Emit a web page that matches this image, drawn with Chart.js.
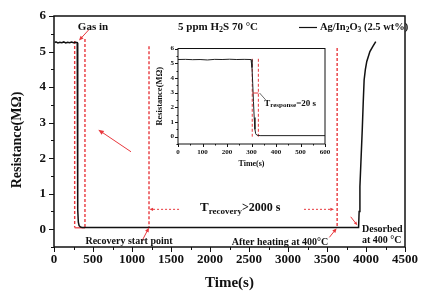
<!DOCTYPE html>
<html>
<head>
<meta charset="utf-8">
<script src="https://cdn.jsdelivr.net/npm/chart.js@4.4.0/dist/chart.umd.min.js"></script>
<style>
  html, body { margin: 0; padding: 0; background: #fff; }
  #wrap { position: relative; width: 426px; height: 297px; }
  #main { position: absolute; left: 0; top: 0; }
  #inset { position: absolute; left: 150px; top: 38px; }
</style>
</head>
<body>
<div id="wrap">
  <canvas id="main" width="426" height="297"></canvas>
  <canvas id="inset" width="185" height="132"></canvas>
</div>
<script>
// main curve: full cycle, gas in -> long recovery -> desorbed by heating
const timeMain = [10, 25, 50, 75, 100, 125, 150, 175, 200, 225, 250, 275, 298,
  301, 304, 307, 312, 322, 340, 360, 1000, 2000, 3000, 3905,
  3912, 3922, 3935, 3952, 3965, 3976, 3992, 4010, 4050, 4090, 4125];
const resMain = [5.25, 5.27, 5.24, 5.26, 5.25, 5.27, 5.24, 5.26, 5.25, 5.27, 5.25, 5.26, 5.25,
  4.4, 1.8, 0.55, 0.2, 0.1, 0.06, 0.05, 0.05, 0.05, 0.05, 0.05,
  0.5, 1.2, 1.9, 2.8, 3.6, 4.2, 4.5, 4.72, 5.0, 5.15, 5.28];

// inset: zoom on the response step
const timeInset = [0, 30, 60, 90, 120, 150, 180, 210, 240, 270, 298, 302, 305, 308, 311, 314, 317, 322, 335, 600];
const resInset = [5.25, 5.26, 5.24, 5.25, 5.22, 5.26, 5.25, 5.27, 5.25, 5.26, 5.25, 4.7, 3.6, 2.4, 1.3, 0.5, 0.2, 0.1, 0.07, 0.07];

const xTicksMain = [0, 500, 1000, 1500, 2000, 2500, 3000, 3500, 4000, 4500];
const yTicksMain = [0, 1, 2, 3, 4, 5, 6];
const xTicksInset = [0, 100, 200, 300, 400, 500, 600];
const yTicksInset = [0, 1, 2, 3, 4, 5, 6];

// marker times (s)
const gasInWindow = [265, 397];
const recoveryStart = 1218;
const heatingTime = 3630;
const responseWindow = [303, 328];

const RED = '#e8383d';
const SERIF = '"Liberation Serif", "Times New Roman", serif';

function arrow(ctx, x1, y1, x2, y2, head, dashed) {
  const a = Math.atan2(y2 - y1, x2 - x1);
  ctx.save();
  ctx.strokeStyle = RED;
  ctx.fillStyle = RED;
  ctx.lineWidth = 1;
  if (dashed) ctx.setLineDash([2, 2]);
  ctx.beginPath();
  ctx.moveTo(x1, y1);
  ctx.lineTo(x2 - Math.cos(a) * head * 0.8, y2 - Math.sin(a) * head * 0.8);
  ctx.stroke();
  ctx.setLineDash([]);
  ctx.beginPath();
  ctx.moveTo(x2, y2);
  ctx.lineTo(x2 - head * Math.cos(a - 0.4), y2 - head * Math.sin(a - 0.4));
  ctx.lineTo(x2 - head * Math.cos(a + 0.4), y2 - head * Math.sin(a + 0.4));
  ctx.closePath();
  ctx.fill();
  ctx.restore();
}

// parts: [text, size, dy]
function richText(ctx, parts, x, y, align) {
  ctx.save();
  ctx.fillStyle = '#111';
  ctx.textAlign = 'left';
  ctx.textBaseline = 'middle';
  let w = 0;
  parts.forEach(([t, s]) => { ctx.font = `bold ${s}px ${SERIF}`; w += ctx.measureText(t).width; });
  let cx = align === 'center' ? x - w / 2 : align === 'right' ? x - w : x;
  parts.forEach(([t, s, dy]) => {
    ctx.font = `bold ${s}px ${SERIF}`;
    ctx.fillText(t, cx, y + (dy || 0));
    cx += ctx.measureText(t).width;
  });
  ctx.restore();
}

function vDash(ctx, xs, ys, t, v1, v2, width) {
  ctx.save();
  ctx.strokeStyle = RED;
  ctx.lineWidth = width;
  ctx.setLineDash([3, 2]);
  ctx.beginPath();
  ctx.moveTo(xs.getPixelForValue(t), ys.getPixelForValue(v1));
  ctx.lineTo(xs.getPixelForValue(t), ys.getPixelForValue(v2));
  ctx.stroke();
  ctx.restore();
}

// frame + major/minor tick marks
function frameTicks(majorLen, minorLen, lw) {
  return {
    id: 'frameTicks',
    afterDraw(chart) {
      const { ctx, chartArea: a, scales: { x, y } } = chart;
      ctx.save();
      ctx.strokeStyle = '#111';
      ctx.lineWidth = lw;
      ctx.strokeRect(a.left, a.top, a.right - a.left, a.bottom - a.top);
      ctx.lineWidth = 1;
      ctx.beginPath();
      const xt = x.ticks.map(t => t.value);
      const yt = y.ticks.map(t => t.value);
      const xStep = xt[1] - xt[0], yStep = yt[1] - yt[0];
      for (let v = x.min; v <= x.max + 1e-9; v += xStep / 2) {
        const px = Math.round(x.getPixelForValue(v)) + 0.5;
        const major = xt.some(t => Math.abs(t - v) < 1e-6);
        ctx.moveTo(px, a.bottom);
        ctx.lineTo(px, a.bottom + (major ? majorLen : minorLen));
      }
      for (let v = yt[0] - yStep / 2; v <= y.max + 1e-9; v += yStep / 2) {
        if (v < y.min - 1e-9) continue;
        const py = Math.round(y.getPixelForValue(v)) + 0.5;
        const major = yt.some(t => Math.abs(t - v) < 1e-6);
        ctx.moveTo(a.left, py);
        ctx.lineTo(a.left - (major ? majorLen : minorLen), py);
      }
      ctx.stroke();
      ctx.restore();
    }
  };
}

const mainMarks = {
  id: 'mainMarks',
  beforeDatasetsDraw(chart) {
    const { ctx, scales: { x, y } } = chart;
    vDash(ctx, x, y, gasInWindow[0], 5.3, 0.05, 1.4);
    vDash(ctx, x, y, gasInWindow[1], 5.35, 0.05, 1.4);
    ctx.save();
    ctx.strokeStyle = RED;
    ctx.lineWidth = 1.2;
    ctx.beginPath();
    ctx.moveTo(x.getPixelForValue(gasInWindow[0]), y.getPixelForValue(0.04));
    ctx.lineTo(x.getPixelForValue(gasInWindow[1]), y.getPixelForValue(0.04));
    ctx.stroke();
    ctx.restore();
    vDash(ctx, x, y, recoveryStart, 5.15, 0.05, 1.4);
    vDash(ctx, x, y, heatingTime, 5.1, 0.05, 1.4);
  },
  afterDraw(chart) {
    const { ctx, chartArea: a, scales: { x, y } } = chart;
    const X = v => x.getPixelForValue(v), Y = v => y.getPixelForValue(v);

    arrow(ctx, X(449), Y(5.62), X(320), Y(5.31), 5);
    arrow(ctx, X(987), Y(2.18), X(568), Y(2.8), 6);
    arrow(ctx, X(1128), Y(-0.33), X(recoveryStart), Y(0.05), 5);
    arrow(ctx, X(3530), Y(-0.23), X(heatingTime - 6), Y(0.03), 5);
    arrow(ctx, X(3804), Y(0.35), X(3889), Y(0.11), 4);
    arrow(ctx, X(1603), Y(0.56), X(recoveryStart + 5), Y(0.56), 4, true);
    arrow(ctx, X(3205), Y(0.56), X(heatingTime - 40), Y(0.56), 4, true);

    richText(ctx, [['Gas in', 11]], X(500), Y(5.7), 'center');
    richText(ctx, [['5 ppm H', 11], ['2', 8, 3], ['S 70 \u00b0C', 11]], X(2103), Y(5.7), 'center');
    richText(ctx, [['Recovery start point', 10]], X(962), Y(-0.34), 'center');
    richText(ctx, [['After heating at 400\u00b0C', 10]], X(2897), Y(-0.36), 'center');
    richText(ctx, [['Desorbed', 10]], X(3949), Y(0.0), 'left');
    richText(ctx, [['at 400 \u00b0C', 10]], X(3949), Y(-0.32), 'left');
    richText(ctx, [['T', 13], ['recovery', 9, 4], ['>2000 s', 12]], X(1872), Y(0.6), 'left');

    // legend
    ctx.save();
    ctx.strokeStyle = '#111';
    ctx.lineWidth = 1.2;
    ctx.beginPath();
    ctx.moveTo(299, 27.5);
    ctx.lineTo(317, 27.5);
    ctx.stroke();
    ctx.restore();
    richText(ctx, [['Ag/In', 10.5], ['2', 7.5, 3], ['O', 10.5], ['3', 7.5, 3], [' (2.5 wt%)', 10.5]], 320, 27, 'left');

    // axis titles
    richText(ctx, [['Time(s)', 15]], (a.left + a.right) / 2, 283, 'center');
    ctx.save();
    ctx.translate(17, 140);
    ctx.rotate(-Math.PI / 2);
    richText(ctx, [['Resistance(M\u03a9)', 14]], 0, 0, 'center');
    ctx.restore();
  }
};

const insetMarks = {
  id: 'insetMarks',
  beforeDatasetsDraw(chart) {
    const { ctx, scales: { x, y } } = chart;
    vDash(ctx, x, y, responseWindow[0], 5.3, 0, 1);
    vDash(ctx, x, y, responseWindow[1], 5.3, 0, 1);
  },
  afterDraw(chart) {
    const { ctx, chartArea: a, scales: { x, y } } = chart;
    const X = v => x.getPixelForValue(v), Y = v => y.getPixelForValue(v);
    ctx.save();
    ctx.strokeStyle = RED;
    ctx.lineWidth = 1;
    ctx.beginPath();
    ctx.moveTo(X(responseWindow[0]), Y(2.97));
    ctx.lineTo(X(responseWindow[1]), Y(2.97));
    ctx.stroke();
    ctx.strokeStyle = '#444';
    ctx.lineWidth = 0.8;
    ctx.beginPath();
    ctx.moveTo(X(333), Y(2.97));
    ctx.lineTo(X(358), Y(2.5));
    ctx.stroke();
    ctx.restore();
    richText(ctx, [['T', 9], ['response', 7, 2], ['=20 s', 9]], X(352), Y(2.25), 'left');

    richText(ctx, [['Time(s)', 8]], (a.left + a.right) / 2, 126, 'center');
    ctx.save();
    ctx.translate(10, (a.top + a.bottom) / 2);
    ctx.rotate(-Math.PI / 2);
    richText(ctx, [['Resistance(M\u03a9)', 8.5]], 0, 0, 'center');
    ctx.restore();
  }
};

function axis(min, max, ticks, size, pad, fixed, horizontal) {
  return {
    type: 'linear',
    min, max,
    afterBuildTicks: s => { s.ticks = ticks.map(v => ({ value: v })); },
    afterFit: s => { if (horizontal) s.height = fixed; else s.width = fixed; },
    grid: { display: false, drawTicks: false },
    border: { display: false },
    ticks: {
      color: '#111',
      font: { family: SERIF, size, weight: 'bold' },
      padding: pad,
      maxRotation: 0,
      autoSkip: false,
      callback: v => String(v)
    }
  };
}

new Chart(document.getElementById('main'), {
  type: 'line',
  data: {
    datasets: [{
      label: 'Ag/In2O3 (2.5 wt%)',
      data: timeMain.map((t, i) => ({ x: t, y: resMain[i] })),
      borderColor: '#111',
      borderWidth: 1.5,
      pointRadius: 0,
      tension: 0
    }]
  },
  options: {
    responsive: false,
    animation: false,
    layout: { padding: { top: 16, right: 21, left: 0, bottom: 0 } },
    plugins: { legend: { display: false }, tooltip: { enabled: false } },
    scales: {
      x: axis(0, 4500, xTicksMain, 13, 5, 50, true),
      y: axis(-0.5, 6, yTicksMain, 13, 8, 54, false)
    }
  },
  plugins: [frameTicks(5, 3, 1.5), mainMarks]
});

new Chart(document.getElementById('inset'), {
  type: 'line',
  data: {
    datasets: [{
      label: 'inset',
      data: timeInset.map((t, i) => ({ x: t, y: resInset[i] })),
      borderColor: '#222',
      borderWidth: 1,
      pointRadius: 0,
      tension: 0
    }]
  },
  options: {
    responsive: false,
    animation: false,
    layout: { padding: { top: 10.5, right: 10, left: 0, bottom: 0 } },
    plugins: { legend: { display: false }, tooltip: { enabled: false } },
    scales: {
      x: axis(0, 600, xTicksInset, 7, 4, 26, true),
      y: axis(-0.5, 6, yTicksInset, 7, 4, 28, false)
    }
  },
  plugins: [frameTicks(3, 1.5, 1), insetMarks]
});
</script>
</body>
</html>
